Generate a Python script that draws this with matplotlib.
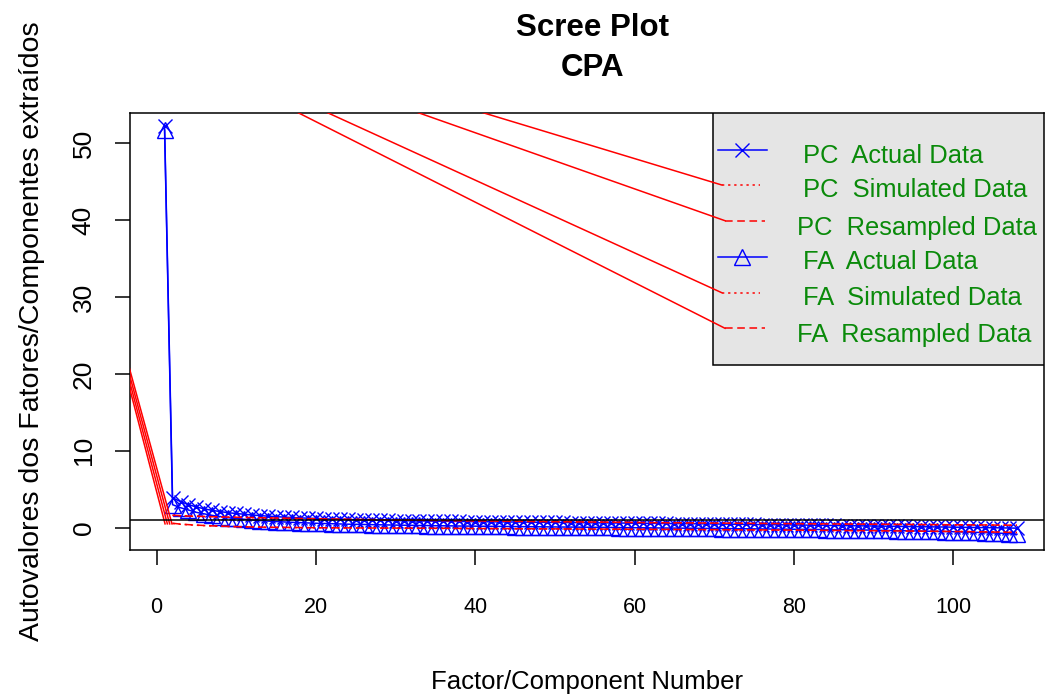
import matplotlib
matplotlib.use("Agg")
import matplotlib.pyplot as plt
from matplotlib.patches import Rectangle
import numpy as np

plt.rcParams['font.family'] = ['Liberation Sans', 'DejaVu Sans']

## DATA
pc_actual = [52.3,
             3.9, 3.4, 3.0, 2.7, 2.45, 2.25, 2.1, 1.95, 1.85,
             1.75, 1.65, 1.58, 1.5, 1.44, 1.38, 1.33, 1.28, 1.24, 1.2,
             1.16, 1.13, 1.10, 1.07, 1.04, 1.01, 0.99, 0.97, 0.95, 0.93,
             0.91, 0.90, 0.88, 0.87, 0.85, 0.84, 0.83, 0.82, 0.80, 0.79,
             0.78, 0.77, 0.76, 0.75, 0.74, 0.73, 0.72, 0.71, 0.70, 0.69,
             0.68, 0.67, 0.66, 0.65, 0.64, 0.63, 0.62, 0.61, 0.60, 0.59,
             0.58, 0.57, 0.56, 0.55, 0.54, 0.53, 0.52, 0.51, 0.50, 0.49,
             0.47, 0.46, 0.45, 0.44, 0.42, 0.41, 0.40, 0.39, 0.37, 0.36,
             0.35, 0.33, 0.32, 0.31, 0.29, 0.28, 0.27, 0.25, 0.24, 0.22,
             0.21, 0.19, 0.18, 0.16, 0.15, 0.13, 0.12, 0.10, 0.09, 0.07,
             0.06, 0.04, 0.03, 0.01, 0.00, -0.02, -0.04, -0.06]

fa_actual = [51.7,
             3.0, 2.6, 2.3, 2.0, 1.8, 1.6, 1.45, 1.3, 1.2,
             1.1, 1.0, 0.93, 0.86, 0.8, 0.75, 0.7, 0.66, 0.62, 0.58,
             0.55, 0.52, 0.49, 0.46, 0.44, 0.42, 0.40, 0.38, 0.36, 0.34,
             0.32, 0.31, 0.29, 0.28, 0.26, 0.25, 0.24, 0.22, 0.21, 0.20,
             0.19, 0.18, 0.17, 0.16, 0.15, 0.14, 0.13, 0.12, 0.11, 0.10,
             0.09, 0.08, 0.07, 0.06, 0.05, 0.04, 0.03, 0.02, 0.01, 0.00,
             -0.01, -0.02, -0.03, -0.04, -0.05, -0.06, -0.07, -0.08, -0.09, -0.10,
             -0.11, -0.12, -0.13, -0.14, -0.15, -0.16, -0.17, -0.18, -0.19, -0.20,
             -0.21, -0.22, -0.23, -0.24, -0.25, -0.26, -0.28, -0.29, -0.30, -0.32,
             -0.34, -0.36, -0.38, -0.40, -0.42, -0.44, -0.46, -0.48, -0.50, -0.52,
             -0.55, -0.58, -0.61, -0.64, -0.68, -0.72, -0.77, -0.85]

# simulated / resampled curves start at component 2
pc_sim = [1.60, 1.55, 1.51, 1.48, 1.45, 1.42, 1.39, 1.37, 1.35, 1.33,
          1.31, 1.29, 1.27, 1.25, 1.23, 1.21, 1.19, 1.17, 1.16, 1.14,
          1.12, 1.11, 1.09, 1.08, 1.06, 1.05, 1.03, 1.02, 1.00, 0.99,
          0.98, 0.96, 0.95, 0.94, 0.93, 0.91, 0.90, 0.89, 0.88, 0.87,
          0.86, 0.85, 0.84, 0.83, 0.82, 0.81, 0.80, 0.79, 0.78, 0.77,
          0.76, 0.75, 0.74, 0.73, 0.72, 0.71, 0.70, 0.69, 0.68, 0.67,
          0.66, 0.66, 0.65, 0.64, 0.63, 0.62, 0.61, 0.61, 0.60, 0.59,
          0.58, 0.57, 0.57, 0.56, 0.55, 0.54, 0.54, 0.53, 0.52, 0.51,
          0.51, 0.50, 0.49, 0.49, 0.48, 0.47, 0.46, 0.46, 0.45, 0.44,
          0.44, 0.43, 0.42, 0.42, 0.41, 0.40, 0.40, 0.39, 0.38, 0.38,
          0.37, 0.36, 0.36, 0.35, 0.34, 0.33, 0.32]

pc_resampled = [1.63, 1.57, 1.52, 1.49, 1.46, 1.43, 1.40, 1.38, 1.36, 1.34,
                1.32, 1.30, 1.28, 1.26, 1.24, 1.22, 1.20, 1.18, 1.17, 1.15,
                1.13, 1.12, 1.10, 1.09, 1.07, 1.06, 1.04, 1.03, 1.01, 1.00,
                0.99, 0.97, 0.96, 0.95, 0.94, 0.92, 0.91, 0.90, 0.89, 0.88,
                0.87, 0.86, 0.85, 0.84, 0.83, 0.82, 0.81, 0.80, 0.79, 0.78,
                0.77, 0.76, 0.75, 0.74, 0.73, 0.72, 0.71, 0.70, 0.69, 0.68,
                0.67, 0.66, 0.65, 0.65, 0.64, 0.63, 0.62, 0.61, 0.60, 0.60,
                0.59, 0.58, 0.57, 0.56, 0.56, 0.55, 0.54, 0.53, 0.53, 0.52,
                0.51, 0.50, 0.50, 0.49, 0.48, 0.47, 0.47, 0.46, 0.45, 0.45,
                0.44, 0.43, 0.43, 0.42, 0.41, 0.41, 0.40, 0.39, 0.39, 0.38,
                0.37, 0.37, 0.36, 0.35, 0.34, 0.33, 0.31]

fa_sim = [0.55, 0.45, 0.38, 0.32, 0.27, 0.23, 0.19, 0.16, 0.13, 0.11,
          0.09, 0.07, 0.05, 0.04, 0.03, 0.02, 0.01, 0.00, -0.01, -0.01,
          -0.02, -0.02, -0.03, -0.03, -0.04, -0.04, -0.05, -0.05, -0.06, -0.06,
          -0.07, -0.07, -0.08, -0.08, -0.09, -0.09, -0.10, -0.10, -0.11, -0.11,
          -0.12, -0.12, -0.13, -0.13, -0.14, -0.14, -0.15, -0.15, -0.16, -0.16,
          -0.17, -0.17, -0.18, -0.18, -0.19, -0.19, -0.20, -0.20, -0.21, -0.21,
          -0.22, -0.22, -0.23, -0.23, -0.24, -0.24, -0.25, -0.25, -0.26, -0.26,
          -0.27, -0.28, -0.28, -0.29, -0.29, -0.30, -0.31, -0.31, -0.32, -0.33,
          -0.33, -0.34, -0.35, -0.35, -0.36, -0.37, -0.38, -0.38, -0.39, -0.40,
          -0.41, -0.42, -0.43, -0.44, -0.45, -0.46, -0.47, -0.48, -0.49, -0.50,
          -0.51, -0.52, -0.54, -0.55, -0.57, -0.59, -0.62]

fa_resampled = [0.58, 0.47, 0.40, 0.34, 0.29, 0.24, 0.20, 0.17, 0.14, 0.12,
                0.10, 0.08, 0.06, 0.05, 0.04, 0.03, 0.02, 0.01, 0.00, -0.01,
                -0.01, -0.02, -0.02, -0.03, -0.03, -0.04, -0.04, -0.05, -0.05, -0.06,
                -0.06, -0.07, -0.07, -0.08, -0.08, -0.09, -0.09, -0.10, -0.10, -0.11,
                -0.11, -0.12, -0.12, -0.13, -0.13, -0.14, -0.14, -0.15, -0.15, -0.16,
                -0.16, -0.17, -0.17, -0.18, -0.18, -0.19, -0.19, -0.20, -0.20, -0.21,
                -0.21, -0.22, -0.22, -0.23, -0.23, -0.24, -0.24, -0.25, -0.25, -0.26,
                -0.27, -0.27, -0.28, -0.28, -0.29, -0.30, -0.30, -0.31, -0.32, -0.32,
                -0.33, -0.34, -0.34, -0.35, -0.36, -0.37, -0.37, -0.38, -0.39, -0.40,
                -0.41, -0.42, -0.43, -0.44, -0.45, -0.46, -0.47, -0.48, -0.49, -0.50,
                -0.51, -0.53, -0.54, -0.56, -0.58, -0.60, -0.63]

# the stray red strokes all leave one point outside the plot (upper left)
stray_origin = (-17.0, 72.2)
stray_left_ends_x = [1.06, 1.35, 1.64, 1.93]
stray_left_end_y = 0.5

legend_labels = ["PC  Actual Data", "PC  Simulated Data", "PC  Resampled Data",
                 "FA  Actual Data", "FA  Simulated Data", "FA  Resampled Data"]

x_ticks = [0, 20, 40, 60, 80, 100]
y_ticks = [0, 10, 20, 30, 40, 50]

BLUE = '#0000ff'
RED = '#ff0000'
GREEN = '#0a8a0a'
DOT = (0, (1.5, 2.5))
DASH = (0, (5, 3))

fig = plt.figure(figsize=(10.46, 6.95), dpi=100)
ax = fig.add_axes([130/1046, 145/695, 914/1046, 437.3/695])

x = np.arange(1, len(pc_actual) + 1)
xr = np.arange(2, len(pc_sim) + 2)

ax.plot(x, pc_actual, color=BLUE, marker='x', ms=10, mew=1.0, lw=1.1, zorder=2)
ax.plot(x, fa_actual, color=BLUE, marker='^', ms=11, mfc='none', mew=1.0, lw=1.1, zorder=2)
ax.plot(xr, pc_sim, color=RED, ls=DOT, lw=1.1, zorder=3)
ax.plot(xr, pc_resampled, color=RED, ls=DASH, lw=1.1, zorder=3)
ax.plot(xr, fa_sim, color=RED, ls=DOT, lw=1.1, zorder=3)
ax.plot(xr, fa_resampled, color=RED, ls=DASH, lw=1.1, zorder=3)
ax.axhline(1, color='black', lw=1.1, zorder=4)

ax.set_xlim(-3.34, 111.4)
ax.set_ylim(-2.9, 54.0)
ax.set_xticks(x_ticks)
ax.set_yticks(y_ticks)
for s in ax.spines.values():
    s.set_linewidth(1.1)
ax.tick_params(direction='out', length=10.8, width=1.1, top=False, right=False)
ax.tick_params(axis='x', labelsize=15.5, pad=23)
ax.tick_params(axis='y', labelsize=19, pad=14, labelrotation=90)
for lab in ax.get_yticklabels():
    lab.set_va('center')

ax.set_xlabel("Factor/Component Number", fontsize=18.5)
ax.xaxis.set_label_coords(0.5, -0.318)
ax.xaxis.label.set_va('baseline')
ax.set_ylabel("Autovalores dos Fatores/Componentes extraídos", fontsize=20.5)
ax.yaxis.set_label_coords(-0.107, 0.5)
ax.yaxis.label.set_va('center')

fig.text(593/1046, 1 - 36/695, "Scree Plot", ha='center', va='baseline',
         fontsize=22.5, fontweight='bold')
fig.text(593/1046, 1 - 76/695, "CPA", ha='center', va='baseline',
         fontsize=22.5, fontweight='bold')

# legend box drawn by hand (R style)
ax.add_patch(Rectangle((0.6375, 0.423), 1 - 0.6375, 1 - 0.423, transform=ax.transAxes,
                       facecolor='#e5e5e5', edgecolor='black', lw=1.1, zorder=5))
row_y = [0.9147, 0.8347, 0.753, 0.6693, 0.5884, 0.507]
text_y = [0.8857, 0.8065, 0.7203, 0.6419, 0.5603, 0.4763]
styles = [('-', 'x'), (DOT, None), (DASH, None), ('-', '^'), (DOT, None), (DASH, None)]
starts = []
for i, (ls, mk) in enumerate(styles):
    if mk:
        x0, x1 = 0.6437, 0.6966
        c = BLUE
    elif ls == DOT:
        x0, x1 = 0.6474, 0.6893
        c = RED
    else:
        x0, x1 = 0.6510, 0.6947
        c = RED
    ax.plot([x0, x1], [row_y[i]] * 2, transform=ax.transAxes, color=c, ls=ls,
            lw=1.1, zorder=6)
    if mk:
        ax.plot([0.6696], [row_y[i]], transform=ax.transAxes, color=BLUE, marker=mk,
                ms=11 if mk == '^' else 10, mfc='none', mew=1.0, zorder=6)
    else:
        starts.append((x0, row_y[i]))
    tx = 0.7294 if 'Resampled' in legend_labels[i] else 0.736
    ax.text(tx, text_y[i], legend_labels[i], transform=ax.transAxes, color=GREEN,
            fontsize=18.4, ha='left', va='baseline', zorder=7)

# stray red strokes
to_data = ax.transData.inverted()
for fx, fy in starts:
    ex, ey = to_data.transform(ax.transAxes.transform((fx, fy)))
    ax.plot([stray_origin[0], ex], [stray_origin[1], ey], color=RED, lw=1.1, zorder=8)
for ex in stray_left_ends_x:
    ax.plot([stray_origin[0], ex], [stray_origin[1], stray_left_end_y], color=RED,
            lw=1.1, zorder=3)

fig.savefig("out.png", dpi=100)
